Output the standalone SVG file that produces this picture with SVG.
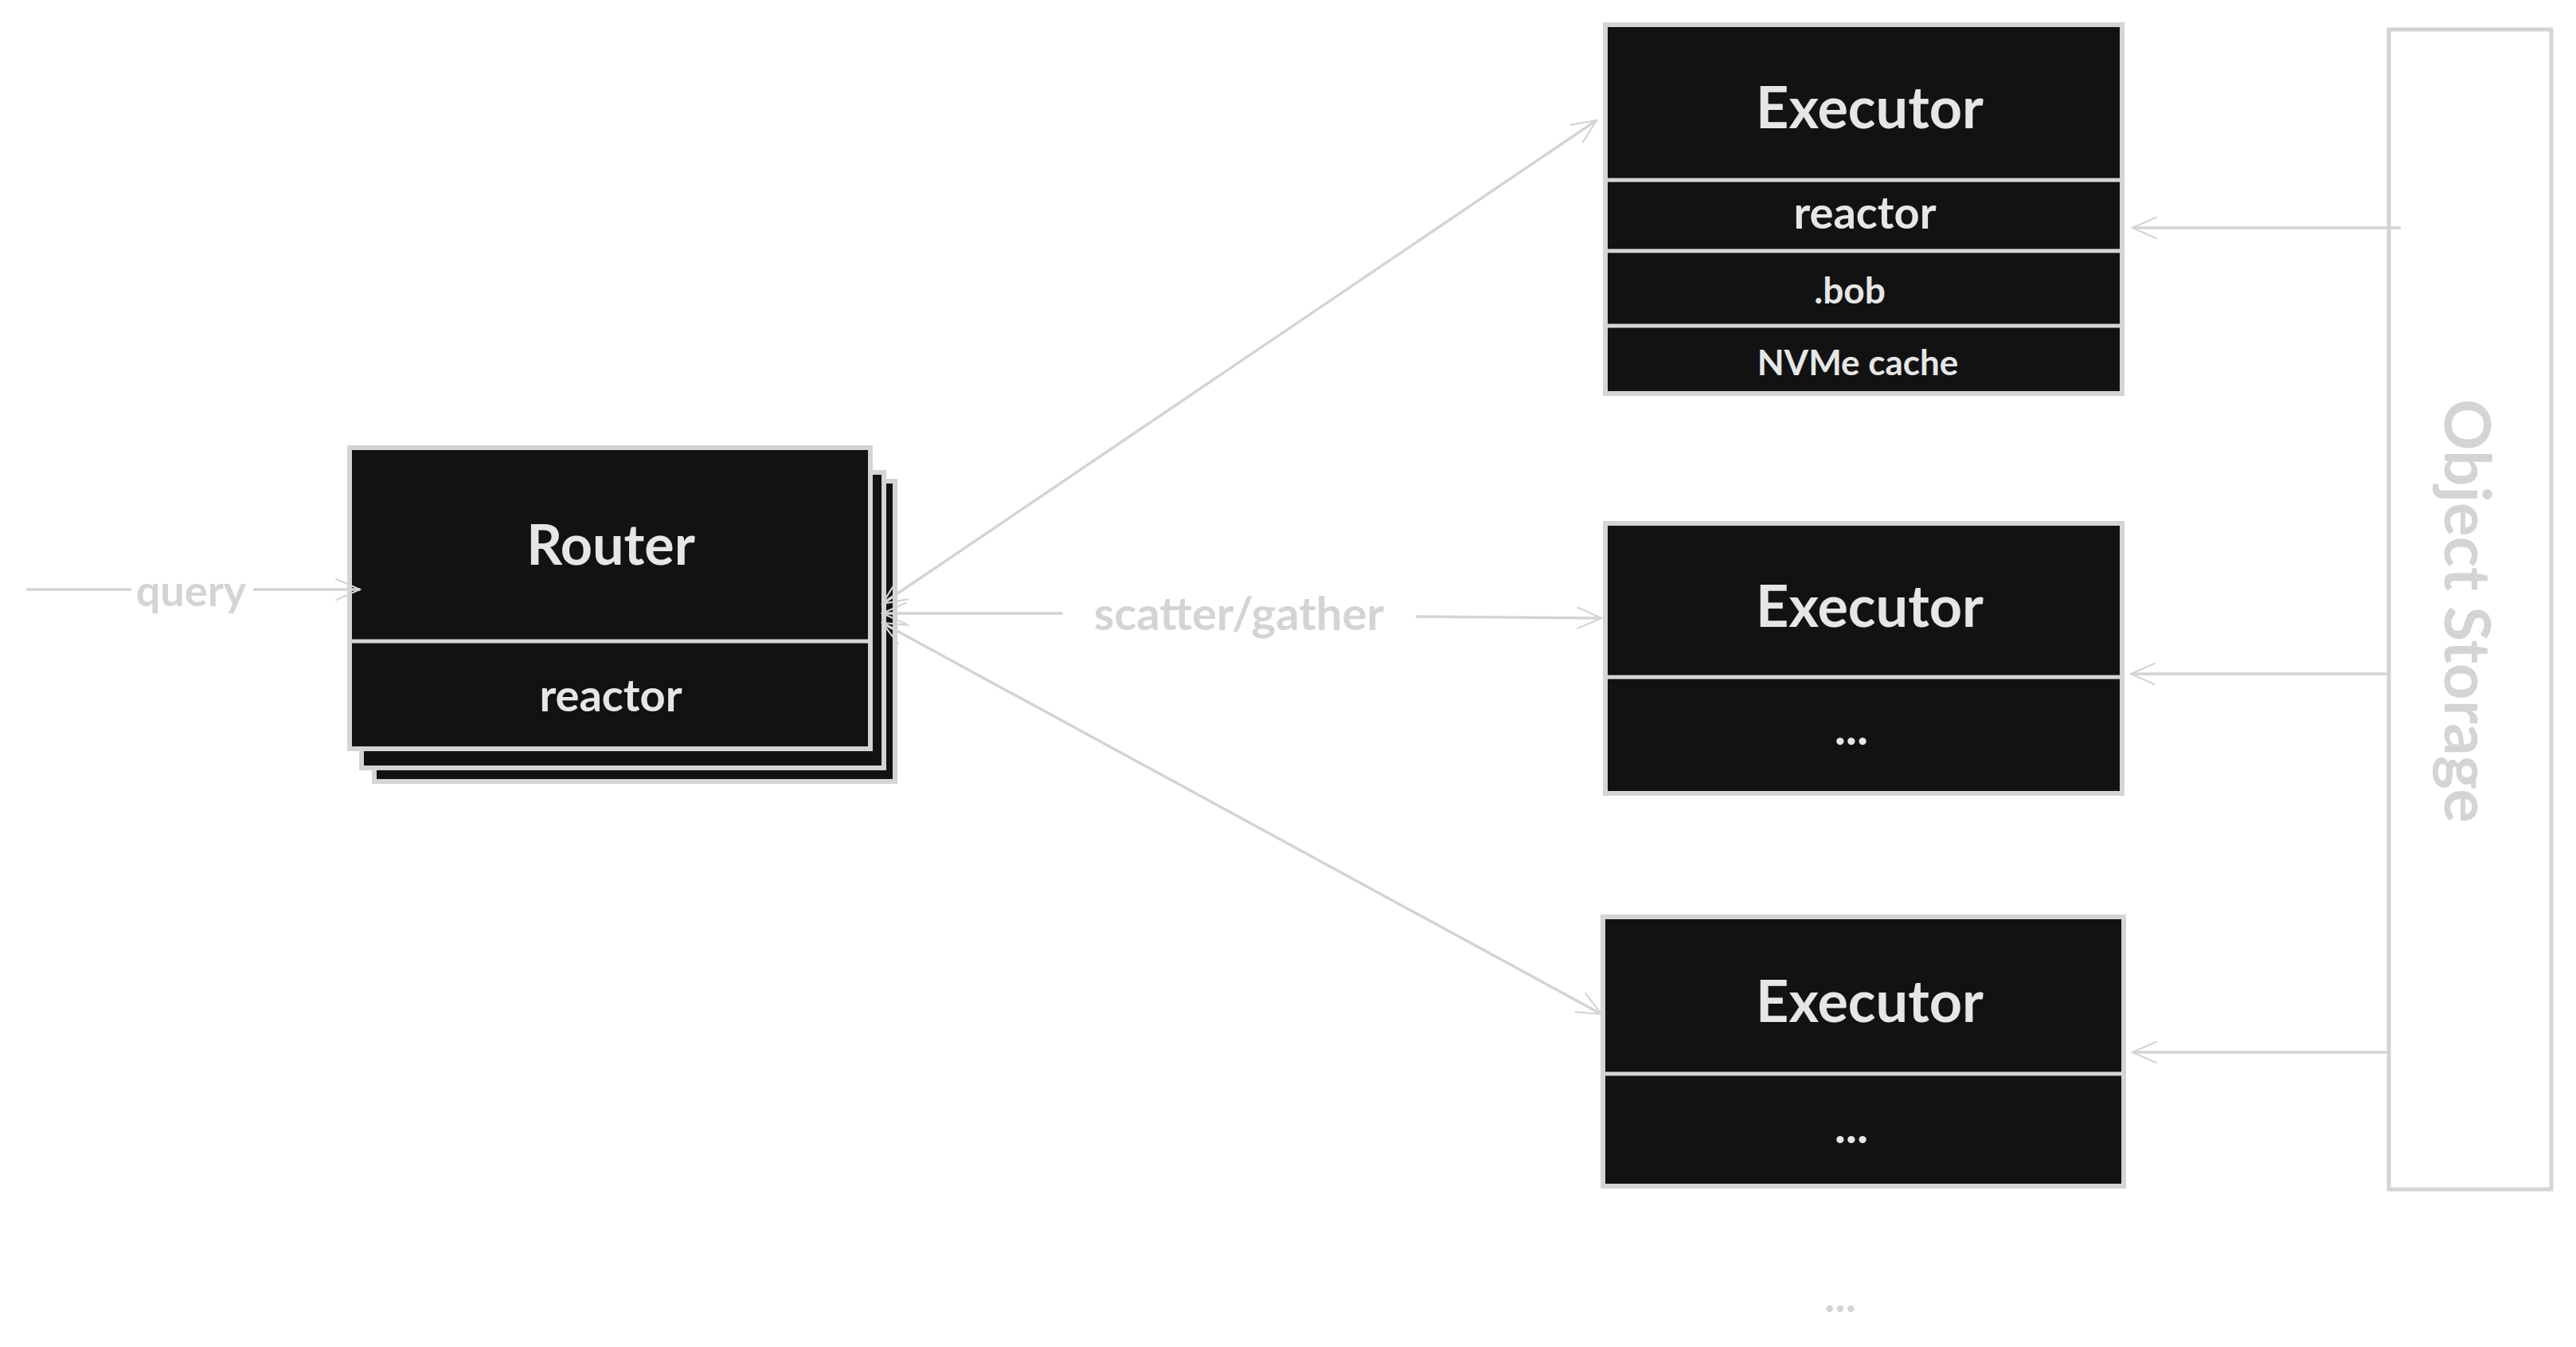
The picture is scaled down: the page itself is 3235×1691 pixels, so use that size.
<svg xmlns="http://www.w3.org/2000/svg" width="3235" height="1691" viewBox="0 0 3235 1691">
<defs>
<style>
.box{fill:#121212;stroke:#d4d4d4;stroke-width:6}
.ln{stroke:#d4d4d4;stroke-width:5;fill:none}
.c{stroke:#d4d4d4;stroke-width:3.5;fill:none}
.t{font-family:Lato,"Liberation Sans",sans-serif;font-weight:bold;fill:#e6e6e6;text-anchor:middle;dominant-baseline:central}
.g{font-family:Lato,"Liberation Sans",sans-serif;font-weight:bold;fill:#d4d4d4;text-anchor:middle;dominant-baseline:central}
</style>
<marker id="ah" viewBox="0 0 20 20" refX="19" refY="10" markerWidth="34" markerHeight="34" orient="auto-start-reverse" markerUnits="userSpaceOnUse"><path d="M1,2 L19,10 L1,18" fill="none" stroke="#d4d4d4" stroke-width="1.3"/></marker>
</defs>
<rect width="3235" height="1691" fill="#fff"/>
<g id="router">
<rect class="box" x="470" y="604" width="654" height="377"/>
<rect class="box" x="454" y="593" width="656" height="371"/>
<rect class="box" x="439" y="562" width="654" height="378"/>
<line class="ln" x1="439" y1="805" x2="1093" y2="805"/>
<text class="t" x="767" y="682" font-size="70">Router</text>
<text class="t" x="767" y="871" font-size="56">reactor</text>
</g>
<g id="executor1">
<rect class="box" x="2016" y="31" width="649" height="463"/>
<line class="ln" x1="2016" y1="226" x2="2665" y2="226"/>
<line class="ln" x1="2016" y1="315" x2="2665" y2="315"/>
<line class="ln" x1="2016" y1="409" x2="2665" y2="409"/>
<text class="t" x="2348" y="133" font-size="72">Executor</text>
<text class="t" x="2342" y="265" font-size="56">reactor</text>
<text class="t" x="2323" y="363" font-size="46">.bob</text>
<text class="t" x="2333" y="454" font-size="44">NVMe cache</text>
</g>
<g id="executor2">
<rect class="box" x="2016" y="657" width="649" height="339"/>
<line class="ln" x1="2016" y1="850" x2="2665" y2="850"/>
<text class="t" x="2348" y="759" font-size="72">Executor</text>
<text class="t" x="2325" y="912" font-size="60">...</text>
</g>
<g id="executor3">
<rect class="box" x="2013" y="1151" width="654" height="338"/>
<line class="ln" x1="2013" y1="1348" x2="2667" y2="1348"/>
<text class="t" x="2348" y="1255" font-size="72">Executor</text>
<text class="t" x="2325" y="1412" font-size="60">...</text>
</g>
<g id="storage">
<rect x="3000" y="37" width="204" height="1456" fill="#fff" stroke="#d4d4d4" stroke-width="5"/>
<text class="g" transform="translate(3101 767) rotate(90)" font-size="80">Object Storage</text>
</g>
<text class="g" x="2311" y="1625" font-size="56">...</text>
<g id="connectors">
<path class="c" d="M33 740 H165 M318 740 H452" marker-end="url(#ah)"/>
<text class="g" x="240" y="740" font-size="54">query</text>
<line class="c" x1="1108" y1="758" x2="2005" y2="151" marker-start="url(#ah)" marker-end="url(#ah)"/>
<line class="c" x1="1108" y1="770" x2="1335" y2="770" marker-start="url(#ah)"/>
<line class="c" x1="1778" y1="774" x2="2011" y2="776" marker-end="url(#ah)"/>
<text class="g" x="1556" y="768" font-size="58">scatter/gather</text>
<line class="c" x1="1108" y1="782" x2="2011" y2="1273" marker-start="url(#ah)" marker-end="url(#ah)"/>
<line class="c" x1="3015" y1="286" x2="2678" y2="286" marker-end="url(#ah)"/>
<line class="c" x1="3000" y1="846" x2="2676" y2="846" marker-end="url(#ah)"/>
<line class="c" x1="3000" y1="1321" x2="2678" y2="1321" marker-end="url(#ah)"/>
</g>
</svg>
